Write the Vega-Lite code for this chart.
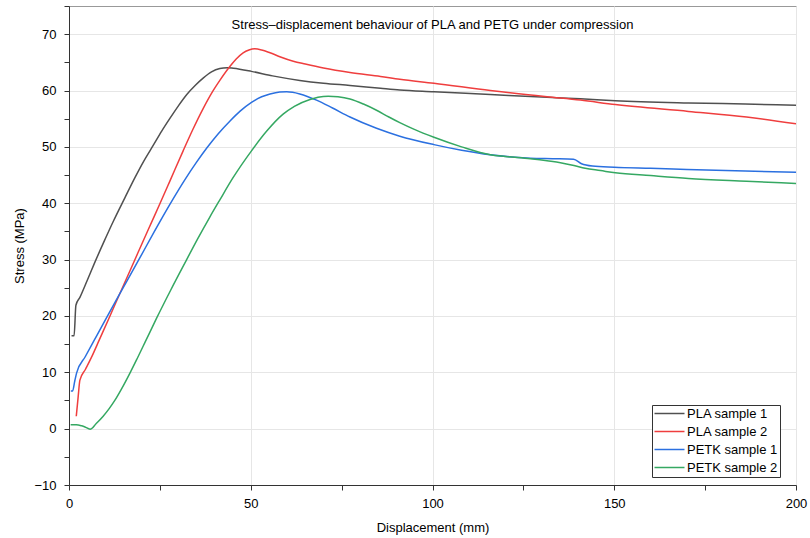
{
  "$schema": "https://vega.github.io/schema/vega-lite/v6.json",
  "width": 727,
  "height": 479,
  "autosize": "none",
  "padding": {"left": 69, "top": 6, "right": 14, "bottom": 53},
  "background": "white",
  "config": {
    "font": "Liberation Sans",
    "view": {"stroke": "#999999", "strokeWidth": 1},
    "axis": {
      "domainColor": "#333333", "tickColor": "#333333", "tickSize": 5,
      "labelFontSize": 13, "labelColor": "#000000", "titleFontSize": 13,
      "titleFontWeight": "normal", "titleColor": "#000000", "labelFont": "Liberation Sans", "titleFont": "Liberation Sans",
      "gridColor": "#e6e6e6"
    }
  },
  "title": {
    "text": "Stress–displacement behaviour of PLA and PETG under compression",
    "orient": "top", "anchor": "middle", "offset": -26,
    "fontSize": 13, "fontWeight": "normal", "font": "Liberation Sans", "color": "#000000"
  },
  "data": {"values": [
    {"s":"PLA sample 1","x":0.7,"y":16.5},{"s":"PLA sample 1","x":1.4,"y":16.5},{"s":"PLA sample 1","x":1.9,"y":21.9},{"s":"PLA sample 1","x":3.0,"y":23.3},{"s":"PLA sample 1","x":5.0,"y":26.3},{"s":"PLA sample 1","x":7.1,"y":29.5},{"s":"PLA sample 1","x":9.5,"y":33.0},{"s":"PLA sample 1","x":12.2,"y":36.8},{"s":"PLA sample 1","x":15.4,"y":41.0},{"s":"PLA sample 1","x":18.1,"y":44.5},{"s":"PLA sample 1","x":20.5,"y":47.4},{"s":"PLA sample 1","x":23.2,"y":50.3},{"s":"PLA sample 1","x":25.5,"y":52.8},{"s":"PLA sample 1","x":27.8,"y":55.1},{"s":"PLA sample 1","x":30.0,"y":57.2},{"s":"PLA sample 1","x":32.4,"y":59.3},{"s":"PLA sample 1","x":34.7,"y":60.9},{"s":"PLA sample 1","x":36.9,"y":62.2},{"s":"PLA sample 1","x":39.2,"y":63.3},{"s":"PLA sample 1","x":41.5,"y":63.9},{"s":"PLA sample 1","x":43.5,"y":64.05},{"s":"PLA sample 1","x":45.2,"y":63.95},{"s":"PLA sample 1","x":50.2,"y":63.4},{"s":"PLA sample 1","x":56.0,"y":62.6},{"s":"PLA sample 1","x":63.5,"y":61.8},{"s":"PLA sample 1","x":70.0,"y":61.3},{"s":"PLA sample 1","x":77.3,"y":60.9},{"s":"PLA sample 1","x":85.7,"y":60.4},{"s":"PLA sample 1","x":91.0,"y":60.1},{"s":"PLA sample 1","x":100.4,"y":59.8},{"s":"PLA sample 1","x":115.9,"y":59.3},{"s":"PLA sample 1","x":131.5,"y":58.8},{"s":"PLA sample 1","x":140.7,"y":58.55},{"s":"PLA sample 1","x":150.3,"y":58.2},{"s":"PLA sample 1","x":170.4,"y":57.8},{"s":"PLA sample 1","x":186.0,"y":57.6},{"s":"PLA sample 1","x":200.0,"y":57.4},
    {"s":"PLA sample 2","x":2.0,"y":2.2},{"s":"PLA sample 2","x":2.5,"y":5.5},{"s":"PLA sample 2","x":3.0,"y":8.6},{"s":"PLA sample 2","x":4.5,"y":10.5},{"s":"PLA sample 2","x":6.5,"y":13.1},{"s":"PLA sample 2","x":8.3,"y":15.7},{"s":"PLA sample 2","x":11.0,"y":19.6},{"s":"PLA sample 2","x":13.6,"y":23.4},{"s":"PLA sample 2","x":18.0,"y":29.8},{"s":"PLA sample 2","x":22.0,"y":35.6},{"s":"PLA sample 2","x":25.0,"y":39.9},{"s":"PLA sample 2","x":27.6,"y":43.7},{"s":"PLA sample 2","x":31.4,"y":49.3},{"s":"PLA sample 2","x":34.0,"y":53.0},{"s":"PLA sample 2","x":36.9,"y":56.8},{"s":"PLA sample 2","x":39.2,"y":59.5},{"s":"PLA sample 2","x":41.5,"y":61.8},{"s":"PLA sample 2","x":44.3,"y":64.3},{"s":"PLA sample 2","x":46.0,"y":65.6},{"s":"PLA sample 2","x":47.9,"y":66.7},{"s":"PLA sample 2","x":49.5,"y":67.2},{"s":"PLA sample 2","x":51.1,"y":67.4},{"s":"PLA sample 2","x":53.0,"y":67.2},{"s":"PLA sample 2","x":55.3,"y":66.7},{"s":"PLA sample 2","x":58.0,"y":66.0},{"s":"PLA sample 2","x":61.7,"y":65.2},{"s":"PLA sample 2","x":65.0,"y":64.7},{"s":"PLA sample 2","x":70.0,"y":64.0},{"s":"PLA sample 2","x":77.3,"y":63.2},{"s":"PLA sample 2","x":85.7,"y":62.5},{"s":"PLA sample 2","x":91.0,"y":62.0},{"s":"PLA sample 2","x":100.4,"y":61.3},{"s":"PLA sample 2","x":115.9,"y":60.0},{"s":"PLA sample 2","x":131.5,"y":58.9},{"s":"PLA sample 2","x":140.7,"y":58.3},{"s":"PLA sample 2","x":150.3,"y":57.5},{"s":"PLA sample 2","x":170.4,"y":56.3},{"s":"PLA sample 2","x":186.4,"y":55.3},{"s":"PLA sample 2","x":200.0,"y":54.1},
    {"s":"PETK sample 1","x":0.5,"y":6.7},{"s":"PETK sample 1","x":1.0,"y":6.7},{"s":"PETK sample 1","x":1.6,"y":8.5},{"s":"PETK sample 1","x":2.1,"y":9.9},{"s":"PETK sample 1","x":4.5,"y":12.8},{"s":"PETK sample 1","x":6.95,"y":15.7},{"s":"PETK sample 1","x":10.0,"y":19.3},{"s":"PETK sample 1","x":13.6,"y":23.5},{"s":"PETK sample 1","x":19.4,"y":30.2},{"s":"PETK sample 1","x":23.5,"y":35.0},{"s":"PETK sample 1","x":27.75,"y":39.8},{"s":"PETK sample 1","x":31.9,"y":44.2},{"s":"PETK sample 1","x":35.0,"y":47.2},{"s":"PETK sample 1","x":37.9,"y":49.8},{"s":"PETK sample 1","x":41.0,"y":52.3},{"s":"PETK sample 1","x":44.3,"y":54.6},{"s":"PETK sample 1","x":47.0,"y":56.3},{"s":"PETK sample 1","x":50.2,"y":57.9},{"s":"PETK sample 1","x":53.0,"y":58.9},{"s":"PETK sample 1","x":55.3,"y":59.4},{"s":"PETK sample 1","x":58.0,"y":59.75},{"s":"PETK sample 1","x":59.9,"y":59.8},{"s":"PETK sample 1","x":61.5,"y":59.7},{"s":"PETK sample 1","x":63.5,"y":59.4},{"s":"PETK sample 1","x":68.1,"y":58.3},{"s":"PETK sample 1","x":72.5,"y":56.9},{"s":"PETK sample 1","x":77.3,"y":55.3},{"s":"PETK sample 1","x":84.6,"y":53.3},{"s":"PETK sample 1","x":91.0,"y":51.9},{"s":"PETK sample 1","x":100.4,"y":50.4},{"s":"PETK sample 1","x":108.0,"y":49.4},{"s":"PETK sample 1","x":115.9,"y":48.6},{"s":"PETK sample 1","x":126.9,"y":48.0},{"s":"PETK sample 1","x":133.0,"y":47.9},{"s":"PETK sample 1","x":138.8,"y":47.8},{"s":"PETK sample 1","x":141.0,"y":47.0},{"s":"PETK sample 1","x":144.0,"y":46.6},{"s":"PETK sample 1","x":150.0,"y":46.4},{"s":"PETK sample 1","x":160.0,"y":46.2},{"s":"PETK sample 1","x":170.0,"y":46.0},{"s":"PETK sample 1","x":186.0,"y":45.7},{"s":"PETK sample 1","x":200.0,"y":45.5},
    {"s":"PETK sample 2","x":0.45,"y":0.7},{"s":"PETK sample 2","x":2.0,"y":0.7},{"s":"PETK sample 2","x":3.5,"y":0.5},{"s":"PETK sample 2","x":4.4,"y":0.3},{"s":"PETK sample 2","x":5.8,"y":-0.1},{"s":"PETK sample 2","x":7.5,"y":0.9},{"s":"PETK sample 2","x":9.4,"y":2.2},{"s":"PETK sample 2","x":11.0,"y":3.5},{"s":"PETK sample 2","x":12.6,"y":5.0},{"s":"PETK sample 2","x":14.5,"y":7.1},{"s":"PETK sample 2","x":16.8,"y":9.9},{"s":"PETK sample 2","x":18.8,"y":12.5},{"s":"PETK sample 2","x":20.9,"y":15.3},{"s":"PETK sample 2","x":24.1,"y":19.6},{"s":"PETK sample 2","x":28.0,"y":24.6},{"s":"PETK sample 2","x":32.3,"y":29.9},{"s":"PETK sample 2","x":35.5,"y":33.8},{"s":"PETK sample 2","x":38.7,"y":37.5},{"s":"PETK sample 2","x":41.5,"y":40.6},{"s":"PETK sample 2","x":45.0,"y":44.4},{"s":"PETK sample 2","x":50.2,"y":49.3},{"s":"PETK sample 2","x":54.4,"y":52.8},{"s":"PETK sample 2","x":58.9,"y":55.8},{"s":"PETK sample 2","x":62.0,"y":57.2},{"s":"PETK sample 2","x":66.3,"y":58.4},{"s":"PETK sample 2","x":68.5,"y":58.8},{"s":"PETK sample 2","x":71.3,"y":59.0},{"s":"PETK sample 2","x":74.0,"y":58.9},{"s":"PETK sample 2","x":77.3,"y":58.5},{"s":"PETK sample 2","x":81.0,"y":57.6},{"s":"PETK sample 2","x":84.6,"y":56.5},{"s":"PETK sample 2","x":88.0,"y":55.3},{"s":"PETK sample 2","x":91.0,"y":54.3},{"s":"PETK sample 2","x":95.0,"y":53.1},{"s":"PETK sample 2","x":100.4,"y":51.7},{"s":"PETK sample 2","x":108.0,"y":50.0},{"s":"PETK sample 2","x":115.9,"y":48.6},{"s":"PETK sample 2","x":120.0,"y":48.3},{"s":"PETK sample 2","x":126.9,"y":47.9},{"s":"PETK sample 2","x":132.0,"y":47.5},{"s":"PETK sample 2","x":135.2,"y":47.2},{"s":"PETK sample 2","x":138.9,"y":46.7},{"s":"PETK sample 2","x":142.0,"y":46.2},{"s":"PETK sample 2","x":146.2,"y":45.8},{"s":"PETK sample 2","x":150.3,"y":45.4},{"s":"PETK sample 2","x":160.0,"y":44.9},{"s":"PETK sample 2","x":170.4,"y":44.4},{"s":"PETK sample 2","x":186.4,"y":43.9},{"s":"PETK sample 2","x":200.0,"y":43.5}
  ]},
  "mark": {"type": "line", "strokeWidth": 1.5, "interpolate": "monotone", "clip": true},
  "encoding": {
    "x": {
      "field": "x", "type": "quantitative",
      "scale": {"domain": [0, 200], "nice": false},
      "title": "Displacement (mm)",
      "axis": {
        "values": [0, 25, 50, 75, 100, 125, 150, 175, 200],
        "labelExpr": "datum.value % 50 === 0 ? datum.label : ''",
        "grid": true,
        "gridOpacity": {"condition": {"test": "datum.value % 50 === 0", "value": 1}, "value": 0},
        "labelPadding": 7, "titlePadding": 11, "labelFlush": false
      }
    },
    "y": {
      "field": "y", "type": "quantitative",
      "scale": {"domain": [-10, 75], "nice": false, "zero": false},
      "title": "Stress (MPa)",
      "axis": {
        "values": [-10, -5, 0, 5, 10, 15, 20, 25, 30, 35, 40, 45, 50, 55, 60, 65, 70, 75],
        "labelExpr": "datum.value % 10 === 0 ? datum.label : ''",
        "grid": true,
        "gridOpacity": {"condition": {"test": "datum.value % 10 === 0", "value": 1}, "value": 0},
        "labelPadding": 8, "titlePadding": 7, "labelFlush": false
      }
    },
    "color": {
      "field": "s", "type": "nominal",
      "scale": {
        "domain": ["PLA sample 1", "PLA sample 2", "PETK sample 1", "PETK sample 2"],
        "range": ["#505050", "#ef3e3e", "#2b70e0", "#35a862"]
      },
      "legend": {
        "title": null, "orient": "none", "legendX": 583, "legendY": 399,
        "symbolType": "M-3,0H3", "symbolSize": 100, "symbolStrokeWidth": 1.5,
        "symbolOffset": 9, "symbolFillColor": "transparent",
        "labelFontSize": 13, "labelFont": "Liberation Sans", "labelColor": "#000000",
        "strokeColor": "#333333", "fillColor": "white", "padding": 2,
        "rowPadding": 4, "labelOffset": 11
      }
    }
  }
}
